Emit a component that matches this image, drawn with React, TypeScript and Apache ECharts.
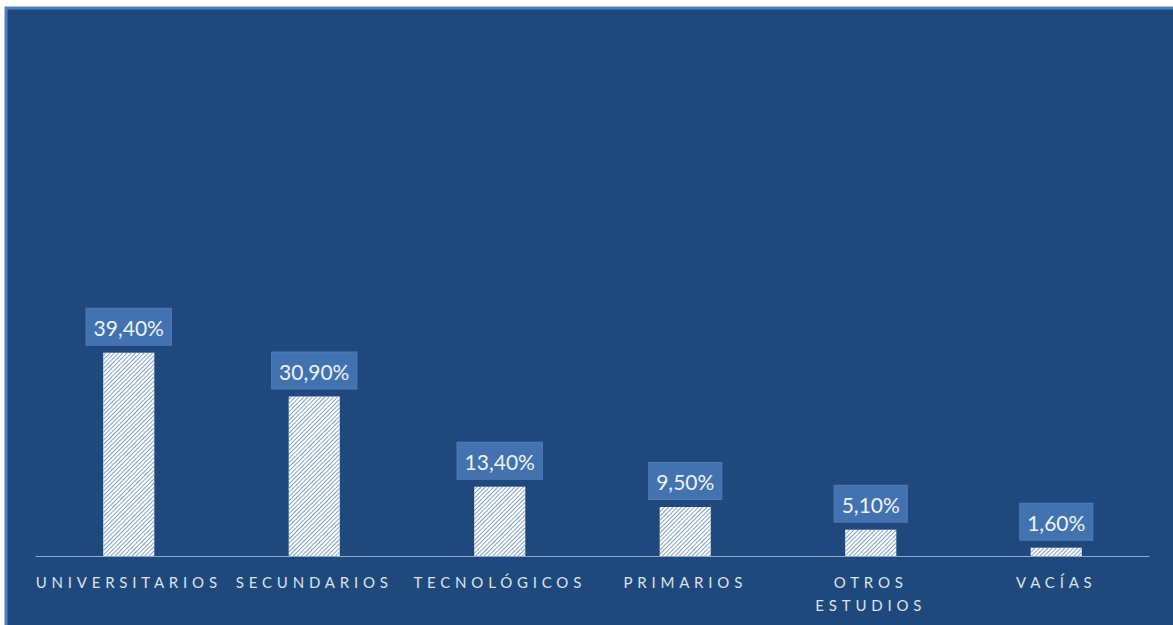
import React, { useEffect, useRef } from "react";
import * as echarts from "echarts";

const categories = ["UNIVERSITARIOS", "SECUNDARIOS", "TECNOLÓGICOS", "PRIMARIOS", "OTROS\nESTUDIOS", "VACÍAS"];
const values = [39.4, 30.9, 13.4, 9.5, 5.1, 1.6];
const yMin = 0;
const yMax = 100;

const AXIS_LABEL_COLOR = "#dbe2ec";

export default function App() {
  const ref = useRef<HTMLDivElement>(null);

  useEffect(() => {
    const chart = echarts.init(ref.current!, null, { renderer: "svg" });
    chart.setOption({
      animation: false,
      backgroundColor: "#ffffff",
      graphic: [
        {
          type: "rect",
          z: -10,
          silent: true,
          shape: { x: 6, y: 8, width: 1250, height: 700 },
          style: { fill: "#1f497d", stroke: "#4f81bd", lineWidth: 3 },
        },
      ],
      grid: { left: 36, right: 24, top: 40, bottom: 69, containLabel: false },
      xAxis: {
        type: "category",
        data: categories,
        axisLine: { show: true, lineStyle: { color: "#8ea9cf", width: 1 } },
        axisTick: { show: false },
        axisLabel: {
          color: AXIS_LABEL_COLOR,
          fontFamily: "Lato",
          fontSize: 15,
          margin: 14,
          lineHeight: 23,
          interval: 0,
        },
      },
      yAxis: {
        type: "value",
        min: yMin,
        max: yMax,
        show: false,
        splitLine: { show: false },
      },
      series: [
        {
          type: "bar",
          data: values,
          barWidth: 51,
          itemStyle: {
            color: "#ffffff",
            decal: {
              symbol: "rect",
              symbolSize: 1,
              dashArrayX: [[1, 0]],
              dashArrayY: [1, 2],
              rotation: -Math.PI / 4,
              color: "#86a3cd",
            },
          },
          label: {
            show: true,
            position: "top",
            distance: 8,
            formatter: (p: any) => p.value.toFixed(2).replace(".", ",") + "%",
            color: "#eef3f9",
            fontFamily: "Lato",
            fontSize: 21,
            lineHeight: 25,
            backgroundColor: "#4372b0",
            borderColor: "#4d7cb9",
            borderWidth: 1,
            padding: [6, 7, 5, 7],
          },
        },
      ],
    });
    return () => chart.dispose();
  }, []);

  return (
    <>
      <style>{`body{margin:0} .chartbox text[fill="${AXIS_LABEL_COLOR}"]{letter-spacing:4.8px}`}</style>
      <div
        ref={ref}
        className="chartbox"
        style={{ position: "absolute", left: 0, top: 0, width: 1173, height: 625 }}
      />
    </>
  );
}
